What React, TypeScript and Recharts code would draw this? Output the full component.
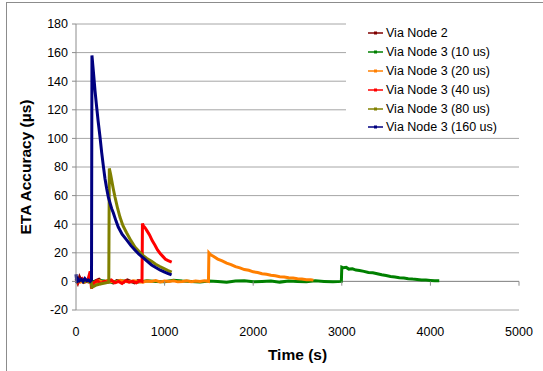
import { LineChart, Line, XAxis, YAxis, CartesianGrid, ReferenceLine } from "recharts"

const xTicks = [0, 1000, 2000, 3000, 4000, 5000]
const yTicks = [-20, 0, 20, 40, 60, 80, 100, 120, 140, 160, 180]

const seriesNames = [
  "Via Node 2",
  "Via Node 3 (10 us)",
  "Via Node 3 (20 us)",
  "Via Node 3 (40 us)",
  "Via Node 3 (80 us)",
  "Via Node 3 (160 us)",
]
const seriesColors = ["#800000", "#008000", "#ff7f00", "#ff0000", "#808000", "#000080"]

// Via Node 2
const node2Times = [0, 20, 40, 60, 80, 100, 130, 160, 190, 220, 260, 300, 340, 380, 420, 460, 500, 540, 580, 620, 660, 700, 740, 780]
const node2Values = [2, -1, 3, 0.5, -0.5, 1, 0, 2, -1, 0.5, 1.5, -0.5, 0, 1, -1, 0.5, 0, -0.5, 1, 0, -1, 0.5, 0, 0]

// Via Node 3 (10 us)
const n10Times = [
  0, 50, 100, 150, 200, 300, 400, 500, 600, 700, 800, 900, 1000, 1100, 1200, 1300, 1400, 1500, 1600, 1700, 1800,
  1900, 2000, 2100, 2200, 2300, 2400, 2500, 2600, 2700, 2800, 2900, 2995, 3000, 3020, 3050, 3080, 3120, 3160, 3200,
  3250, 3300, 3350, 3400, 3450, 3500, 3550, 3600, 3650, 3700, 3750, 3800, 3850, 3900, 3950, 4000, 4050, 4100,
]
const n10Values = [
  -1, 1, 0.5, -0.5, 0, 0.5, -0.5, 0.5, 0, -0.5, 0.5, 0, -0.3, 0.8, 0.2, 0, -0.4, 0.3, 0, -0.6, 0.2, 0.4, -0.3, 0, 0.3,
  -0.5, 0.2, 0, -0.2, 0.4, 0, -0.3, 0, 10, 9.5, 9.8, 8.6, 8.8, 7.9, 7.6, 7.0, 6.2, 6.0, 5.4, 4.6, 4.1, 3.5, 3.1, 2.6,
  2.3, 1.9, 1.6, 1.4, 1.0, 0.9, 0.7, 0.5, 0.5,
]

// Via Node 3 (20 us)
const n20Times = [
  0, 50, 100, 150, 180, 220, 260, 300, 350, 400, 450, 500, 550, 600, 650, 700, 750, 800, 850, 900, 950, 1000, 1050,
  1100, 1150, 1200, 1250, 1300, 1350, 1400, 1450, 1495, 1500, 1520, 1550, 1600, 1650, 1700, 1750, 1800, 1850, 1900,
  1950, 2000, 2050, 2100, 2150, 2200, 2250, 2300, 2350, 2400, 2450, 2500, 2550, 2600, 2650, 2680,
]
const n20Values = [
  0.5, -0.5, 1, 0, -2, -1, 0.5, -0.5, 0.5, 0, -0.5, 0.8, 0, -0.3, 0.5, 0, -0.5, 0.3, 0, 0.6, -0.4, 0.2, 0, 0.5, -0.3,
  0, 0.4, -0.2, 0.3, 0, 0.5, 0, 20, 18.6, 17.6, 15.6, 14.4, 12.8, 11.8, 10.3, 9.5, 8.3, 7.8, 6.7, 6.2, 5.4, 5.0, 4.3,
  4.0, 3.3, 3.1, 2.5, 2.3, 1.8, 1.7, 1.2, 1.2, 0.9,
]

// Via Node 3 (40 us)
const n40Times = [
  0, 20, 40, 70, 100, 130, 160, 175, 200, 240, 280, 320, 360, 400, 440, 480, 520, 560, 600, 640, 680, 720, 745, 750,
  760, 780, 800, 830, 860, 890, 920, 950, 980, 1010, 1040, 1080,
]
const n40Values = [
  1, -1, 0.5, 2, -0.5, 0, 7, -5, -1, 0.5, -1.5, 0, -0.5, 1, -1, 0, -1.5, 0.5, -0.5, 0, -1, 0.5, 0, 40.5, 39, 37.5,
  35.5, 32.5, 28.5, 25.5, 22, 19.5, 17.5, 15.5, 14.5, 13.5,
]

// Via Node 3 (80 us)
const n80Times = [
  0, 30, 60, 90, 120, 150, 170, 180, 200, 230, 260, 300, 340, 370, 376, 390, 402, 420, 440, 470, 496, 530, 571, 620,
  665, 710, 759, 800, 853, 900, 947, 1000, 1040, 1080,
]
const n80Values = [
  -1, 0.5, 1, -0.5, 0.5, 0, 0.5, -4, -3.5, -2.5, -2, -1.5, -1, -0.5, 79, 75, 71, 65, 59, 51, 45, 39, 34, 28.5, 24, 21,
  18, 16, 14, 12, 10.4, 8.8, 7.6, 6.5,
]

// Via Node 3 (160 us)
const n160Times = [
  0, 10, 20, 40, 60, 80, 100, 120, 140, 160, 175, 180, 190, 200, 215, 233, 250, 271, 290, 308, 327, 346, 365, 383, 402,
  421, 450, 477, 520, 571, 620, 665, 710, 759, 805, 853, 900, 947, 1000, 1040, 1079,
]
const n160Values = [
  5, -1, 2, 0.5, 1.5, 0, 2, 0.5, 1, 0, 1, 158, 151, 144, 133, 122, 112, 101, 90, 81, 72, 65, 59, 55, 51, 48, 42.5, 38,
  33, 29, 25, 22, 19, 16.4, 14, 11.5, 9.7, 8, 6.5, 5.5, 4.5,
]

const seriesTimes = [node2Times, n10Times, n20Times, n40Times, n80Times, n160Times]
const seriesValues = [node2Values, n10Values, n20Values, n40Values, n80Values, n160Values]

const series = seriesNames.map((name, i) => ({
  name,
  color: seriesColors[i],
  data: seriesTimes[i].map((t, j) => ({ t, v: seriesValues[i][j] })),
}))

const font = "'Liberation Sans', Arial, sans-serif"

export default function App() {
  return (
    <div
      style={{
        position: "absolute",
        left: 0,
        top: 0,
        width: 543,
        height: 371,
        overflow: "hidden",
        background: "#fff",
        fontFamily: font,
      }}
    >
      <div
        style={{
          position: "absolute",
          left: 6,
          top: 2,
          width: 600,
          height: 500,
          border: "1px solid #8c8c8c",
        }}
      />
      <LineChart
        width={543}
        height={371}
        margin={{ top: 24, right: 24, bottom: 0, left: 0 }}
        style={{ position: "absolute", left: 0, top: 0 }}
      >
        <CartesianGrid vertical={false} stroke="#a6a6a6" strokeWidth={1} />
        <XAxis
          dataKey="t"
          type="number"
          domain={[0, 5000]}
          ticks={xTicks}
          height={61}
          axisLine={false}
          tickLine={false}
          tickMargin={11}
          tick={{ fontSize: 12.5, fill: "#000", fontFamily: font }}
          label={{
            value: "Time (s)",
            position: "insideBottom",
            offset: 11,
            style: { fontSize: 15.5, fontWeight: "bold", fill: "#000", fontFamily: font },
          }}
        />
        <YAxis
          type="number"
          domain={[-20, 180]}
          ticks={yTicks}
          width={76}
          stroke="#8c8c8c"
          tickSize={4}
          tickMargin={4}
          tick={{ fontSize: 12.5, fill: "#000", fontFamily: font }}
          label={{
            value: "ETA Accuracy (µs)",
            angle: -90,
            position: "center",
            dx: -13,
            style: { fontSize: 15.5, fontWeight: "bold", fill: "#000", fontFamily: font },
          }}
        />
        <ReferenceLine y={0} stroke="#8c8c8c" />
        {series.map((s) => (
          <Line
            key={s.name}
            data={s.data}
            dataKey="v"
            name={s.name}
            type="linear"
            stroke={s.color}
            strokeWidth={3}
            dot={false}
            activeDot={false}
            isAnimationActive={false}
          />
        ))}
        {xTicks.slice(1).map((t) => (
          <ReferenceLine
            key={t}
            segment={[
              { x: t, y: 0 },
              { x: t, y: -3 },
            ]}
            stroke="#8c8c8c"
          />
        ))}
      </LineChart>
      <div
        style={{
          position: "absolute",
          left: 346,
          top: 22,
          width: 174,
          height: 113,
          background: "#fff",
          paddingTop: 2,
          boxSizing: "border-box",
        }}
      >
        {series.map((s) => (
          <div
            key={s.name}
            style={{ display: "flex", alignItems: "center", height: 18.8, fontSize: 12.5, color: "#000" }}
          >
            <svg width={15} height={6} style={{ marginLeft: 22, marginRight: 3 }}>
              <line x1={0} y1={3} x2={15} y2={3} stroke={s.color} strokeWidth={1.5} />
              <rect x={6} y={1.5} width={3} height={3} fill={s.color} />
            </svg>
            <span>{s.name}</span>
          </div>
        ))}
      </div>
    </div>
  )
}
